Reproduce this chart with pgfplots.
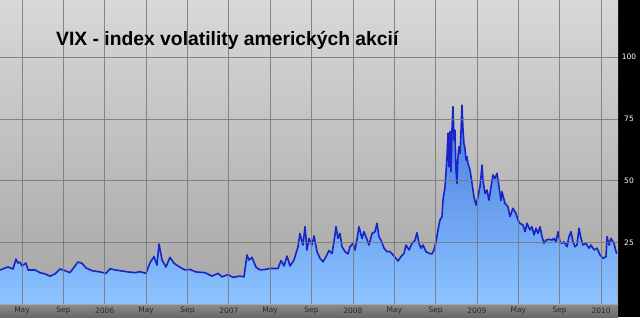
\documentclass[border=0pt]{standalone}
\usepackage{pgfplots}
\pgfplotsset{compat=1.18}
\usepackage{fontspec}
\setmainfont{DejaVu Sans}
\newfontfamily\titlefont{Liberation Sans}
\definecolor{bgtop}{RGB}{216,216,216}
\definecolor{bgbot}{RGB}{165,165,165}
\definecolor{bartop}{RGB}{140,140,140}
\definecolor{barbot}{RGB}{105,105,105}
\definecolor{tickc}{RGB}{40,40,40}
\definecolor{gridc}{RGB}{120,120,120}
\definecolor{vixline}{RGB}{22,36,200}
\definecolor{filltop}{RGB}{70,120,222}
\definecolor{fillbot}{RGB}{140,196,255}
\pgfplotstableread{
m v
1.87 13.8
2.64 15.0
3.13 14.2
3.42 18.2
3.61 16.6
3.80 17.0
4.00 15.4
4.38 16.6
4.58 13.8
5.25 13.8
5.74 12.7
6.22 12.2
6.71 11.3
7.19 12.2
7.67 14.2
8.16 13.5
8.64 12.7
9.12 15.4
9.41 17.0
9.80 16.5
10.19 14.6
10.77 13.5
11.54 13.0
12.12 12.4
12.51 14.3
12.99 13.8
13.48 13.5
14.25 13.0
14.93 12.7
15.41 13.1
15.99 12.4
16.38 16.7
16.76 19.2
17.05 15.8
17.25 24.3
17.54 17.8
17.92 15.0
18.31 18.9
18.70 16.5
19.28 14.9
19.76 13.8
20.25 14.0
20.83 13.0
21.70 12.7
22.37 11.3
22.95 12.4
23.34 11.0
23.92 11.9
24.40 10.8
25.08 11.3
25.47 11.0
25.76 19.9
25.95 17.8
26.24 18.9
26.63 14.9
27.01 13.8
27.50 14.0
27.98 14.4
28.76 14.4
29.05 17.6
29.34 15.4
29.63 19.4
29.92 15.4
30.30 17.8
30.69 23.2
30.88 28.6
31.17 23.9
31.37 31.3
31.56 21.9
31.75 26.6
32.04 23.9
32.24 27.6
32.53 21.2
32.82 18.5
33.11 17.1
33.40 19.2
33.69 21.6
33.98 20.5
34.17 25.2
34.37 31.3
34.56 26.6
34.75 28.6
34.95 23.2
35.24 21.2
35.53 20.3
35.72 23.2
36.01 24.6
36.20 21.9
36.40 26.2
36.59 31.3
36.88 26.6
37.07 29.3
37.36 26.2
37.56 23.9
37.85 28.6
38.14 29.3
38.33 32.7
38.52 27.3
38.72 25.9
39.01 22.6
39.30 21.2
39.59 21.2
39.88 19.9
40.17 18.5
40.36 17.4
40.65 19.2
40.94 20.5
41.14 23.9
41.43 21.9
41.72 24.6
42.01 25.9
42.20 28.9
42.39 24.6
42.59 22.6
42.78 23.9
43.07 21.2
43.36 20.5
43.65 20.3
43.84 21.9
44.04 25.2
44.23 30.0
44.42 34.0
44.62 35.4
44.71 42.1
44.91 47.5
45.00 53.0
45.10 59.7
45.20 69.2
45.29 55.6
45.39 69.9
45.49 53.6
45.58 70.5
45.68 80.0
45.78 66.5
45.87 70.5
45.97 54.3
46.07 48.9
46.16 59.7
46.26 63.7
46.36 61.0
46.45 69.2
46.55 80.6
46.65 70.5
46.74 65.1
46.84 63.1
46.94 58.3
47.03 59.7
47.13 57.0
47.33 54.3
47.52 48.9
47.71 43.5
47.91 40.1
48.10 43.5
48.29 47.5
48.39 51.6
48.49 56.3
48.58 50.2
48.78 44.8
48.97 46.2
49.16 42.1
49.36 47.5
49.55 52.3
49.74 50.9
49.94 53.0
50.13 47.5
50.32 42.0
50.42 45.5
50.71 40.8
51.00 39.4
51.19 35.4
51.48 38.8
51.77 36.7
51.97 34.0
52.16 32.7
52.45 32.0
52.65 29.3
52.84 32.7
53.13 30.0
53.32 31.3
53.52 28.0
53.71 30.7
53.90 28.6
54.10 31.3
54.29 27.3
54.48 24.6
54.68 25.9
54.97 26.2
55.26 25.9
55.45 26.6
55.64 25.2
55.84 29.3
56.03 25.2
56.22 24.6
56.42 25.2
56.71 23.2
56.90 27.3
57.09 29.3
57.29 25.2
57.48 23.2
57.67 23.9
57.87 30.7
58.06 26.6
58.25 23.9
58.54 24.6
58.84 22.6
59.03 23.9
59.32 21.9
59.61 22.6
59.90 19.9
60.19 18.5
60.48 19.2
60.58 27.3
60.77 23.9
60.96 26.6
61.06 25.9
61.25 24.6
61.45 21.2
61.54 20.5
}\vixdata
\begin{document}
\begin{tikzpicture}[x=1pt,y=1pt]
\useasboundingbox (0,0) rectangle (640,317);
\fill[black] (618,0) rectangle (640,317);
\shade[top color=bartop, bottom color=barbot] (0,0) rectangle (618,13);
\begin{axis}[
  at={(0pt,13pt)}, anchor=south west,
  scale only axis, width=618pt, height=304pt,
  xmin=1.87, xmax=61.64, ymin=0, ymax=123.2,
  axis background/.style={top color=bgtop, bottom color=bgbot},
  axis line style={draw=none},
  major tick length=0pt,
  xtick={4,8,...,60},
  xticklabels={May,Sep,2006,May,Sep,2007,May,Sep,2008,May,Sep,2009,May,Sep,2010},
  ytick={25,50,75,100},
  yticklabel pos=right,
  /pgf/number format/assume math mode=true,
  grid=major,
  grid style={gridc, line width=0.7pt, opacity=0.85},
  xticklabel style={anchor=center, yshift=-6.5pt, font=\fontsize{7.5}{8}\selectfont, text=tickc},
  yticklabel style={anchor=center, xshift=11pt, font=\fontsize{7.5}{8}\selectfont, text=white},
  axis on top,
]
\addplot[draw=none, top color=filltop, bottom color=fillbot] table[x=m, y=v] {\vixdata} \closedcycle;
\addplot[draw=vixline, line width=1.6pt, line join=round, no marks] table[x=m, y=v] {\vixdata};
\end{axis}
\node[anchor=base west, inner sep=0pt, font=\titlefont\bfseries\fontsize{19.3}{22}\selectfont] at (56,272) {VIX - index volatility amerických akcií};
\end{tikzpicture}
\end{document}
